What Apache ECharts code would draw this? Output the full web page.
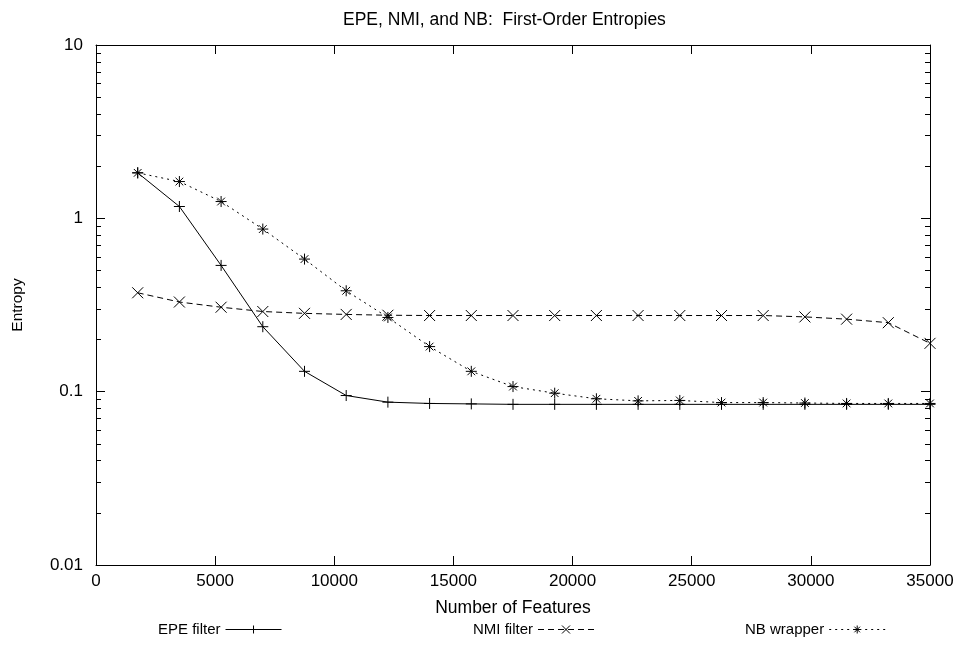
<!DOCTYPE html>
<html>
<head>
<meta charset="utf-8">
<script src="https://cdn.jsdelivr.net/npm/echarts@6/dist/echarts.min.js"></script>
<style>
  html, body { margin: 0; padding: 0; background: #fff; }
  #chart { width: 959px; height: 666px; }
</style>
</head>
<body>
<div id="chart"></div>
<script>
// number of selected features (x)
const features = [1750, 3500, 5250, 7000, 8750, 10500, 12250, 14000, 15750, 17500,
  19250, 21000, 22750, 24500, 26250, 28000, 29750, 31500, 33250, 35000]
// entropies
const epeFilter = [1.83, 1.17, 0.535, 0.237, 0.131, 0.095, 0.087, 0.0855, 0.085, 0.0845,
  0.0845, 0.0845, 0.0845, 0.0845, 0.0845, 0.0845, 0.0845, 0.0845, 0.0845, 0.0845]
const nmiFilter = [0.372, 0.329, 0.307, 0.29, 0.283, 0.279, 0.276, 0.275, 0.275, 0.275,
  0.275, 0.275, 0.275, 0.275, 0.275, 0.275, 0.27, 0.262, 0.25, 0.19]
const nbWrapper = [1.83, 1.63, 1.25, 0.867, 0.582, 0.382, 0.268, 0.182, 0.131, 0.107,
  0.098, 0.091, 0.0885, 0.089, 0.0865, 0.0865, 0.086, 0.0855, 0.0855, 0.0855]
const yMajorTicks = [0.01, 0.1, 1, 10]
const yMinorTicks = [0.02, 0.03, 0.04, 0.05, 0.06, 0.07, 0.08, 0.09,
  0.2, 0.3, 0.4, 0.5, 0.6, 0.7, 0.8, 0.9,
  2, 3, 4, 5, 6, 7, 8, 9]

const font = 'Liberation Sans, Arial, Helvetica, sans-serif'
const pts = (ys) => features.map((x, i) => [x, ys[i]])

const chart = echarts.init(document.getElementById('chart'))

// minor log ticks are drawn on a plain value axis that runs in log10 space
const minorAxis = (position) => ({
  type: 'value',
  position: position,
  min: -2,
  max: 1,
  axisLine: { show: false, onZero: false },
  axisLabel: { show: false },
  splitLine: { show: false },
  axisTick: {
    show: true,
    inside: true,
    length: 5,
    customValues: yMinorTicks.map(v => Math.log10(v)),
    lineStyle: { color: '#000', width: 1 }
  }
})

const plusSym = 'path://M5,0L5,10M0,5L10,5'
const crossSym = 'path://M0,0L10,10M0,10L10,0'
const starSym = 'path://M5,0L5,10M0,5L10,5M1.5,1.5L8.5,8.5M1.5,8.5L8.5,1.5'

const lineSeries = (name, ys, sym, type) => ({
  name: name,
  type: 'line',
  xAxisIndex: 0,
  yAxisIndex: 0,
  data: pts(ys),
  symbol: sym,
  symbolSize: 11,
  showAllSymbol: true,
  lineStyle: { color: '#000', width: 1, type: type },
  itemStyle: { color: '#000', borderColor: '#000', borderWidth: 1 },
  emphasis: { disabled: true }
})

const legendAt = (name, left) => ({
  data: [name],
  left: left,
  top: 617,
  align: 'right',
  itemWidth: 56,
  itemHeight: 10,
  selectedMode: false,
  lineStyle: { width: 1 },
  itemStyle: { borderWidth: 1, color: '#fff', borderColor: '#000' },
  textStyle: { color: '#000', fontSize: 15, fontFamily: font }
})

const option = {
  animation: false,
  backgroundColor: '#fff',
  textStyle: { fontFamily: font },
  title: {
    text: 'EPE, NMI, and NB:  First-Order Entropies',
    left: 338,
    top: 6,
    textStyle: { color: '#000', fontSize: 17.5, fontWeight: 'normal', fontFamily: font }
  },
  legend: [
    legendAt('EPE filter', 153),
    legendAt('NMI filter', 468),
    legendAt('NB wrapper', 740)
  ],
  grid: { left: 96, right: 29, top: 45, bottom: 101 },
  xAxis: [
    {
      type: 'value',
      min: 0,
      max: 35000,
      interval: 5000,
      name: 'Number of Features',
      nameLocation: 'middle',
      nameGap: 34,
      nameTextStyle: { color: '#000', fontSize: 17.5, fontFamily: font },
      axisLine: { onZero: false, lineStyle: { color: '#000', width: 1 } },
      axisTick: { inside: true, length: 9, lineStyle: { color: '#000' } },
      axisLabel: { color: '#000', fontSize: 17, margin: 8, fontFamily: font, formatter: v => String(v) },
      splitLine: { show: false }
    },
    {
      type: 'value',
      position: 'top',
      min: 0,
      max: 35000,
      interval: 5000,
      axisLine: { onZero: false, lineStyle: { color: '#000', width: 1 } },
      axisTick: { inside: true, length: 9, lineStyle: { color: '#000' } },
      axisLabel: { show: false },
      splitLine: { show: false }
    }
  ],
  yAxis: [
    {
      type: 'log',
      logBase: 10,
      min: 0.01,
      max: 10,
      position: 'left',
      name: 'Entropy',
      nameLocation: 'middle',
      nameGap: 70,
      nameTextStyle: { color: '#000', fontSize: 15.5, fontFamily: font },
      axisLine: { show: true, onZero: false, lineStyle: { color: '#000', width: 1 } },
      axisTick: { show: true, inside: true, length: 9, customValues: yMajorTicks, lineStyle: { color: '#000' } },
      axisLabel: { color: '#000', fontSize: 17, margin: 13, customValues: yMajorTicks, fontFamily: font },
      splitLine: { show: false }
    },
    {
      type: 'log',
      logBase: 10,
      min: 0.01,
      max: 10,
      position: 'right',
      axisLine: { show: true, onZero: false, lineStyle: { color: '#000', width: 1 } },
      axisTick: { show: true, inside: true, length: 9, customValues: yMajorTicks, lineStyle: { color: '#000' } },
      axisLabel: { show: false },
      splitLine: { show: false }
    },
    minorAxis('left'),
    minorAxis('right')
  ],
  series: [
    lineSeries('EPE filter', epeFilter, plusSym, 'solid'),
    lineSeries('NMI filter', nmiFilter, crossSym, [6, 4]),
    lineSeries('NB wrapper', nbWrapper, starSym, [2, 4])
  ]
}

chart.setOption(option)
</script>
</body>
</html>
